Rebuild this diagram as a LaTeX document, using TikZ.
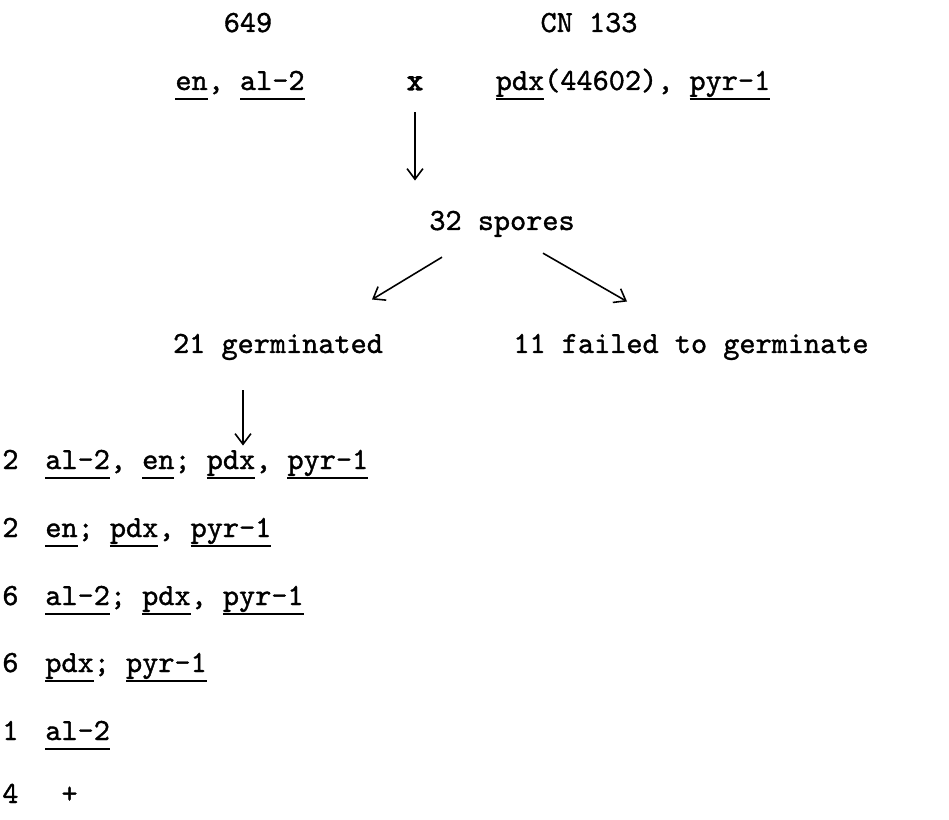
\documentclass[tikz,border=0pt]{standalone}
\usepackage{fontspec}
\newfontfamily\typew{lmmono10-regular.otf}[FakeBold=1.2]
\newfontfamily\typewheavy{lmmono10-regular.otf}[FakeBold=3.5]
\usetikzlibrary{arrows.meta,calc}

% underlined gene symbol, rule kept at one depth
\newsavebox{\genebox}
\newcommand{\gene}[1]{\sbox{\genebox}{#1}\rlap{\rule[-5.5pt]{\wd\genebox}{1.2pt}}\usebox{\genebox}}

\tikzset{
  txt/.style={font=\typew\fontsize{17.5}{20}\selectfont, inner sep=0pt, anchor=base},
  arr/.style={-{Straight Barb[length=6pt,width=9pt]}, line width=0.9pt},
}

\begin{document}
\begin{tikzpicture}[x=0.02cm,y=-0.02cm]
\useasboundingbox (0,0) rectangle (949,820);

% Parents of the cross
\node[txt] (strainA) at (248,32) {649};
\node[txt] (strainB) at (589,32) {CN 133};
\node[txt] (genoA) at (240,90) {\gene{en}, \gene{al-2}};
\node[txt, font=\typewheavy\fontsize{17.5}{20}\selectfont] (cross) at (415,90) {x};
\node[txt] (genoB) at (633,90) {\gene{pdx}(44602), \gene{pyr-1}};

% Spores
\node[txt] (spores) at (502,230) {32 spores};
\node[txt] (germ) at (278,353) {21 germinated};
\node[txt] (fail) at (691,353) {11 failed to germinate};

\draw[arr] ($(cross.south)+(0,22)$) -- ($(cross |- spores.north)+(0,-30)$);
\draw[arr] ($(spores.south)+(-60,20)$) -- ($(germ.north)+(94,-34)$);
\draw[arr] ($(spores.south)+(41,16)$) -- ($(fail.north)+(-64,-32)$);

% Classes of germinated spores
\node[txt, anchor=base west] (cnt1) at (2,469) {2};
\node[txt, anchor=base west] (cls1) at (45,469) {\gene{al-2}, \gene{en}; \gene{pdx}, \gene{pyr-1}};
\node[txt, anchor=base west] (cnt2) at (2,537) {2};
\node[txt, anchor=base west] (cls2) at (45,537) {\gene{en}; \gene{pdx}, \gene{pyr-1}};
\node[txt, anchor=base west] (cnt3) at (2,605) {6};
\node[txt, anchor=base west] (cls3) at (45,605) {\gene{al-2}; \gene{pdx}, \gene{pyr-1}};
\node[txt, anchor=base west] (cnt4) at (2,672) {6};
\node[txt, anchor=base west] (cls4) at (45,672) {\gene{pdx}; \gene{pyr-1}};
\node[txt, anchor=base west] (cnt5) at (2,740) {1};
\node[txt, anchor=base west] (cls5) at (45,740) {\gene{al-2}};
\node[txt, anchor=base west] (cnt6) at (2,803) {4};
\node[txt, anchor=base west] (cls6) at (45,803) {\ +};

\draw[arr] ($(germ.south)+(-35,30)$) -- ($(germ.south |- cls1.north)+(-35,-4)$);

\end{tikzpicture}
\end{document}
